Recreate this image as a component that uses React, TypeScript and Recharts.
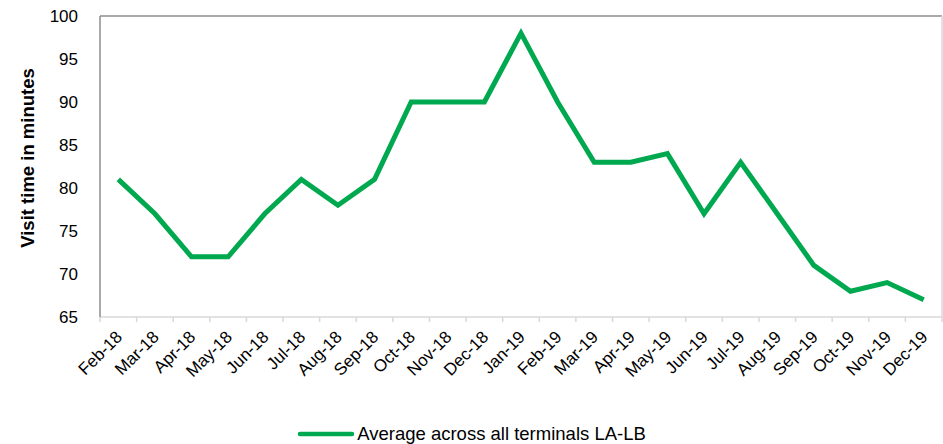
import { LineChart, Line, XAxis, YAxis, ReferenceLine, Legend } from 'recharts'

const months = [
  'Feb-18', 'Mar-18', 'Apr-18', 'May-18', 'Jun-18', 'Jul-18', 'Aug-18', 'Sep-18',
  'Oct-18', 'Nov-18', 'Dec-18', 'Jan-19', 'Feb-19', 'Mar-19', 'Apr-19', 'May-19',
  'Jun-19', 'Jul-19', 'Aug-19', 'Sep-19', 'Oct-19', 'Nov-19', 'Dec-19',
]
const visitTimes = [81, 77, 72, 72, 77, 81, 78, 81, 90, 90, 90, 98, 90, 83, 83, 84, 77, 83, 77, 71, 68, 69, 67]
const yTicks = [65, 70, 75, 80, 85, 90, 95, 100]

const SERIES = 'Average across all terminals LA-LB'
const GREEN = '#00a94f'
const FONT = '"Liberation Sans", Arial, sans-serif'

const data = months.map((m, i) => ({ month: m, value: visitTimes[i] }))

const PLOT_LEFT = 100
const PLOT_RIGHT = 942
const STEP = (PLOT_RIGHT - PLOT_LEFT) / months.length

function MonthTick(props: any) {
  const { x, y, payload, index } = props
  const left = x - STEP / 2
  const isLast = index === months.length - 1
  const ax = x + 5
  const ay = y + 21
  return (
    <g>
      <line x1={left} y1={y} x2={left} y2={y + 5} stroke="#d9d9d9" strokeWidth={1.5} />
      {isLast && <line x1={left + STEP} y1={y} x2={left + STEP} y2={y + 5} stroke="#d9d9d9" strokeWidth={1.5} />}
      <text
        x={ax}
        y={ay}
        textAnchor="end"
        fontSize={17}
        fontFamily={FONT}
        fill="#000"
        transform={`rotate(-45, ${ax}, ${ay})`}
      >
        {payload.value}
      </text>
    </g>
  )
}

function AxisTitle() {
  return (
    <text
      x={27}
      y={158}
      textAnchor="middle"
      dominantBaseline="central"
      fontSize={18.5}
      fontWeight="bold"
      fontFamily={FONT}
      fill="#000"
      transform="rotate(-90, 27, 158)"
    >
      Visit time in minutes
    </text>
  )
}

function LegendContent() {
  return (
    <div style={{ display: 'flex', alignItems: 'center', justifyContent: 'center', fontFamily: FONT, fontSize: 18.5, color: '#000', lineHeight: '20px' }}>
      <svg width={58} height={8} style={{ marginRight: 2 }}>
        <line x1={3} y1={4} x2={55} y2={4} stroke={GREEN} strokeWidth={4.5} strokeLinecap="round" />
      </svg>
      <span>{SERIES}</span>
    </div>
  )
}

export default function App() {
  return (
    <div style={{ position: 'absolute', left: 0, top: 0, width: 943, height: 444, background: '#fff' }}>
      <LineChart width={943} height={444} data={data} margin={{ top: 16, right: 0, left: 0, bottom: 0 }}>
        <XAxis
          dataKey="month"
          scale="band"
          interval={0}
          height={107}
          tickSize={0}
          tickMargin={0}
          tickLine={false}
          axisLine={{ stroke: '#d9d9d9', strokeWidth: 1.5 }}
          tick={<MonthTick />}
        />
        <YAxis
          domain={[65, 100]}
          ticks={yTicks}
          width={100}
          tickLine={false}
          tickMargin={16}
          axisLine={{ stroke: '#8c8c8c', strokeWidth: 1.5 }}
          tick={{ fontSize: 17, fontFamily: FONT, fill: '#000' }}
          label={<AxisTitle />}
        />
        <YAxis
          yAxisId="right"
          orientation="right"
          width={1}
          tick={false}
          tickLine={false}
          axisLine={{ stroke: '#d9d9d9', strokeWidth: 1.5 }}
        />
        <ReferenceLine y={100} stroke="#8c8c8c" strokeWidth={1.5} />
        <Legend verticalAlign="bottom" height={20} content={<LegendContent />} />
        <Line
          type="linear"
          dataKey="value"
          name={SERIES}
          stroke={GREEN}
          strokeWidth={5}
          dot={false}
          isAnimationActive={false}
        />
      </LineChart>
    </div>
  )
}
